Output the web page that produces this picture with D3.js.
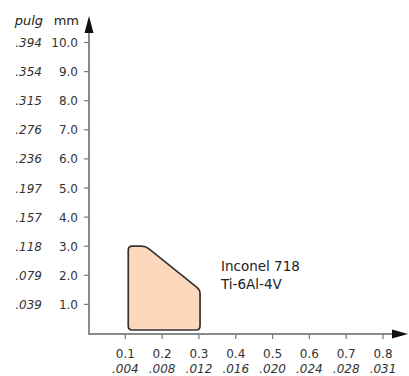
<!DOCTYPE html>
<html><head><meta charset="utf-8">
<script src="https://cdn.jsdelivr.net/npm/d3@7"></script>
<style>body{margin:0;background:#fff}</style>
</head><body>
<script>
// Data
const yTicksMm = [1, 2, 3, 4, 5, 6, 7, 8, 9, 10];
const yTicksIn = [".039", ".079", ".118", ".157", ".197", ".236", ".276", ".315", ".354", ".394"];
const xTicksMm = [0.1, 0.2, 0.3, 0.4, 0.5, 0.6, 0.7, 0.8];
const xTicksIn = [".004", ".008", ".012", ".016", ".020", ".024", ".028", ".031"];
const regionX = [0.108, 0.108, 0.155, 0.303, 0.303];
const regionY = [0.12, 3.0, 3.0, 1.5, 0.12];
const labelLines = ["Inconel 718", "Ti-6Al-4V"];

const W = 409, H = 376;
const svg = d3.select("body").append("svg").attr("width", W).attr("height", H);
const x = d3.scaleLinear().domain([0, 0.8]).range([88.5, 383]);
const y = d3.scaleLinear().domain([0, 10]).range([333.5, 42.5]);
const axisY = 334, axisX = 89;
const font = "'DejaVu Sans', Verdana, sans-serif";

// rounded polygon path
function roundedPoly(p, r) {
  const n = p.length;
  let d = "";
  for (let i = 0; i < n; i++) {
    const a = p[(i - 1 + n) % n], b = p[i], c = p[(i + 1) % n];
    const l1 = Math.hypot(a[0] - b[0], a[1] - b[1]), l2 = Math.hypot(c[0] - b[0], c[1] - b[1]);
    const r1 = Math.min(r, l1 / 2), r2 = Math.min(r, l2 / 2);
    const s = [b[0] + (a[0] - b[0]) * r1 / l1, b[1] + (a[1] - b[1]) * r1 / l1];
    const e = [b[0] + (c[0] - b[0]) * r2 / l2, b[1] + (c[1] - b[1]) * r2 / l2];
    d += (i === 0 ? "M" : "L") + s[0] + "," + s[1] + "Q" + b[0] + "," + b[1] + "," + e[0] + "," + e[1];
  }
  return d + "Z";
}

// region
const pts = regionX.map((v, i) => [x(v), y(regionY[i])]);
svg.append("path")
  .attr("d", roundedPoly(pts, 4))
  .attr("fill", "#fdd8bd").attr("stroke", "#333").attr("stroke-width", 1.7)
  .attr("stroke-linejoin", "round");

// axes lines
svg.append("line").attr("x1", axisX).attr("x2", axisX).attr("y1", axisY).attr("y2", 30)
  .attr("stroke", "#8a8a8a").attr("stroke-width", 2);
svg.append("line").attr("x1", axisX - 1).attr("x2", 395).attr("y1", axisY).attr("y2", axisY)
  .attr("stroke", "#8a8a8a").attr("stroke-width", 2);
// arrowheads
svg.append("path").attr("d", `M${axisX},16 L${axisX - 4.5},33 L${axisX + 4.5},33 Z`).attr("fill", "#111");
svg.append("path").attr("d", `M408,${axisY} L392,${axisY - 4.5} L392,${axisY + 4.5} Z`).attr("fill", "#111");

// y ticks
const yg = svg.append("g");
yTicksMm.forEach((v, i) => {
  const yy = y(v);
  yg.append("line").attr("x1", axisX - 5).attr("x2", axisX).attr("y1", yy).attr("y2", yy)
    .attr("stroke", "#777").attr("stroke-width", 1.2);
  yg.append("text").attr("x", 78).attr("y", yy + 4.5).attr("text-anchor", "end")
    .attr("font-family", font).attr("font-size", 12).attr("fill", "#333").text(v.toFixed(1));
  yg.append("text").attr("x", 42).attr("y", yy + 4.5).attr("text-anchor", "end")
    .attr("font-family", font).attr("font-style", "italic").attr("font-size", 12).attr("fill", "#333").text(yTicksIn[i]);
});
svg.append("text").attr("x", 43).attr("y", 25).attr("text-anchor", "end")
  .attr("font-family", font).attr("font-style", "italic").attr("font-size", 13).attr("fill", "#222").text("pulg");
svg.append("text").attr("x", 79).attr("y", 25).attr("text-anchor", "end")
  .attr("font-family", font).attr("font-size", 13).attr("fill", "#222").text("mm");

// x ticks
const xg = svg.append("g");
xTicksMm.forEach((v, i) => {
  const xx = x(v);
  xg.append("line").attr("x1", xx).attr("x2", xx).attr("y1", axisY).attr("y2", axisY + 5)
    .attr("stroke", "#777").attr("stroke-width", 1.2);
  xg.append("text").attr("x", xx).attr("y", 357.5).attr("text-anchor", "middle")
    .attr("font-family", font).attr("font-size", 12).attr("fill", "#333").text(v.toFixed(1));
  xg.append("text").attr("x", xx).attr("y", 373).attr("text-anchor", "middle")
    .attr("font-family", font).attr("font-style", "italic").attr("font-size", 12).attr("fill", "#333").text(xTicksIn[i]);
});

// label
labelLines.forEach((t, i) => {
  svg.append("text").attr("x", 221).attr("y", 271 + i * 18)
    .attr("font-family", font).attr("font-size", 13.5).attr("fill", "#222").text(t);
});
</script>
</body></html>
